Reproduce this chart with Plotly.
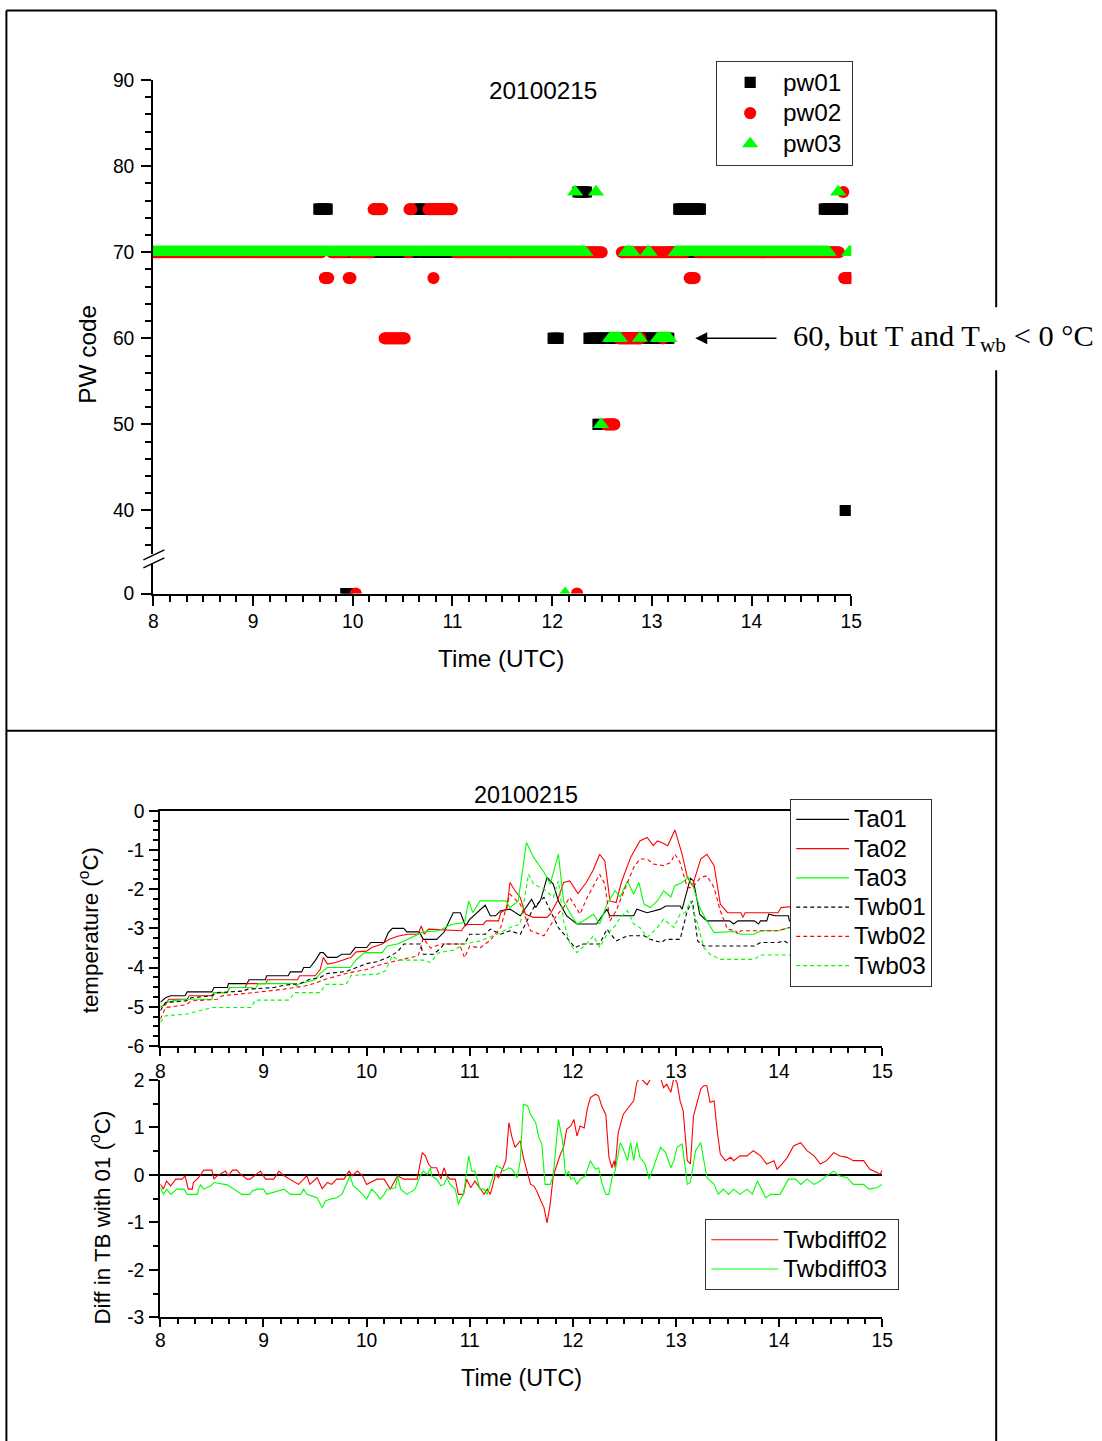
import numpy as np
import plotly.graph_objects as go

W, H = 1102, 1441
# placement of the figure inside the captured page: scale and origin offset (page px)
SX, SY, OX, OY = 0.9857, 0.9845, 4.6, 10.0
K = 1 / 0.985  # size factor for fonts, markers and lengths


def px(x):
    """page pixel column -> paper x"""
    return ((x - OX) / SX) / W


def py(y):
    """page pixel row -> paper y"""
    return 1 - ((y - OY) / SY) / H


def sz(v):
    return round(v * K, 2)


# ---------------- present-weather codes (1-minute reports) ----------------
# runs of constant code: (code, first report, last report) in decimal hours UTC
PW01_RUNS = [
    (70, 8.00, 9.60), (70, 9.82, 9.90), (70, 10.00, 10.62), (70, 10.72, 11.98),
    (70, 12.10, 12.20), (70, 13.20, 14.70),
    (75, 9.66, 9.75), (75, 10.66, 10.69), (75, 13.27, 13.48), (75, 14.73, 14.92),
    (77, 12.26, 12.35),
    (60, 12.01, 12.06), (60, 12.37, 13.17),
    (50, 12.46, 12.47),
    (40, 14.94, 14.94),
    (0, 9.93, 9.95),
]
PW02_RUNS = [
    (70, 8.00, 9.68), (70, 9.79, 9.93), (70, 10.00, 10.18), (70, 10.55, 10.56),
    (70, 11.03, 12.49), (70, 12.70, 13.34), (70, 13.46, 14.88),
    (75, 10.21, 10.30), (75, 10.57, 10.59), (75, 10.76, 11.00),
    (67, 9.72, 9.75), (67, 9.96, 9.97), (67, 10.81, 10.81), (67, 13.38, 13.43), (67, 14.93, 15.00),
    (60, 10.32, 10.52), (60, 12.67, 12.89), (60, 13.11, 13.11),
    (50, 12.54, 12.62),
    (77, 14.92, 14.92),
    (0, 10.03, 10.03), (0, 12.25, 12.25),
]
PW03_RUNS = [
    (70, 8.00, 12.33), (70, 12.74, 12.80), (70, 12.96, 12.97), (70, 13.24, 14.78), (70, 14.98, 15.00),
    (77, 12.23, 12.23), (77, 12.44, 12.44), (77, 14.87, 14.87),
    (60, 12.58, 12.68), (60, 12.88, 12.88), (60, 13.06, 13.17),
    (50, 12.49, 12.49),
    (0, 12.13, 12.13),
]

# ---------------- air and wet-bulb temperature (hour, degC) ----------------
TA01 = [(8.00, -4.89), (8.05, -4.77), (8.10, -4.72), (8.24, -4.72), (8.26, -4.62), (8.50, -4.62),
        (8.52, -4.51), (8.65, -4.51), (8.66, -4.41), (8.84, -4.41), (8.86, -4.31), (9.02, -4.31),
        (9.03, -4.21), (9.24, -4.21), (9.26, -4.11), (9.37, -4.11), (9.39, -4.00), (9.45, -4.00),
        (9.50, -3.83), (9.55, -3.62), (9.58, -3.62), (9.62, -3.74), (9.71, -3.74), (9.76, -3.66),
        (9.84, -3.66), (9.89, -3.49), (10.00, -3.49), (10.04, -3.36), (10.17, -3.36), (10.21, -3.11),
        (10.25, -3.00), (10.36, -3.00), (10.39, -3.09), (10.51, -3.09), (10.55, -3.28), (10.68, -3.28),
        (10.75, -3.10), (10.84, -2.60), (10.91, -2.60), (10.96, -2.94), (11.00, -2.77), (11.09, -2.55),
        (11.15, -2.41), (11.20, -2.68), (11.25, -2.68), (11.30, -2.55), (11.39, -2.51), (11.49, -2.68),
        (11.60, -2.26), (11.64, -2.47), (11.69, -2.26), (11.75, -1.70), (11.81, -1.87), (11.86, -2.30),
        (11.94, -2.68), (12.04, -2.89), (12.23, -2.89), (12.33, -2.51), (12.36, -2.68), (12.59, -2.68),
        (12.62, -2.51), (12.72, -2.60), (12.85, -2.51), (12.90, -2.43), (13.04, -2.43), (13.06, -2.51),
        (13.14, -1.72), (13.17, -1.79), (13.23, -2.64), (13.30, -2.81), (13.52, -2.81), (13.56, -2.89),
        (13.60, -2.81), (13.76, -2.81), (13.80, -2.89), (13.82, -2.81), (13.88, -2.81), (13.90, -2.64),
        (13.96, -2.68), (14.09, -2.68), (14.10, -2.81), (14.40, -2.80), (14.70, -2.75), (15.00, -2.80)]

TA02 = [(8.00, -5.00), (8.05, -4.95), (8.08, -4.81), (8.26, -4.81), (8.28, -4.72), (8.50, -4.72),
        (8.52, -4.64), (8.65, -4.64), (8.67, -4.51), (8.82, -4.51), (8.84, -4.41), (9.02, -4.41),
        (9.04, -4.31), (9.33, -4.31), (9.35, -4.21), (9.50, -4.21), (9.55, -4.05), (9.58, -3.74),
        (9.62, -3.91), (9.70, -3.87), (9.85, -3.74), (9.90, -3.60), (10.00, -3.58), (10.05, -3.49),
        (10.15, -3.40), (10.22, -3.28), (10.30, -3.20), (10.40, -3.15), (10.50, -3.15), (10.53, -2.94),
        (10.56, -3.15), (10.60, -3.02), (10.92, -3.06), (10.96, -2.90), (11.13, -2.90), (11.16, -2.81),
        (11.28, -2.81), (11.30, -2.60), (11.36, -2.50), (11.39, -1.83), (11.44, -2.04), (11.49, -2.21),
        (11.54, -2.64), (11.62, -2.72), (11.75, -2.72), (11.78, -2.64), (11.85, -2.30), (11.91, -1.83),
        (11.97, -1.79), (12.05, -2.11), (12.13, -1.83), (12.20, -1.50), (12.26, -1.11), (12.31, -1.28),
        (12.36, -2.30), (12.42, -2.34), (12.47, -1.83), (12.56, -1.19), (12.65, -0.77), (12.72, -0.68),
        (12.78, -0.89), (12.82, -0.77), (12.86, -0.81), (12.92, -0.89), (12.99, -0.49), (13.06, -1.11),
        (13.11, -1.70), (13.16, -1.91), (13.24, -1.23), (13.30, -1.11), (13.37, -1.40), (13.43, -2.38),
        (13.50, -2.60), (13.63, -2.60), (13.65, -2.72), (13.67, -2.60), (13.99, -2.60), (14.02, -2.47),
        (14.10, -2.45), (14.40, -2.50), (14.70, -2.55), (15.00, -2.50)]

TA03 = [(8.00, -5.02), (8.05, -4.90), (8.12, -4.85), (8.25, -4.81), (8.50, -4.81), (8.52, -4.64),
        (8.65, -4.64), (8.67, -4.51), (8.88, -4.51), (8.92, -4.55), (8.95, -4.41), (9.30, -4.41),
        (9.32, -4.47), (9.35, -4.41), (9.50, -4.31), (9.55, -4.15), (9.62, -4.00), (9.84, -4.00),
        (9.90, -3.80), (9.98, -3.62), (10.15, -3.62), (10.20, -3.45), (10.30, -3.40), (10.40, -3.28),
        (10.55, -3.09), (10.70, -3.06), (10.82, -2.90), (10.95, -2.85), (10.99, -2.30), (11.03, -2.60),
        (11.10, -2.30), (11.35, -2.30), (11.39, -2.47), (11.47, -2.30), (11.55, -0.81), (11.62, -1.19),
        (11.72, -1.57), (11.78, -1.87), (11.86, -1.11), (11.91, -2.30), (11.96, -2.55), (12.04, -2.89),
        (12.10, -2.81), (12.20, -2.64), (12.26, -2.89), (12.33, -2.38), (12.41, -2.04), (12.46, -2.20),
        (12.53, -1.79), (12.59, -2.13), (12.64, -1.83), (12.69, -2.38), (12.75, -2.47), (12.82, -2.30),
        (12.88, -2.04), (12.95, -2.20), (12.99, -1.91), (13.06, -1.83), (13.12, -1.70), (13.17, -1.96),
        (13.23, -2.47), (13.30, -2.81), (13.37, -3.11), (13.56, -3.08), (13.63, -3.15), (13.76, -3.15),
        (13.82, -3.06), (13.99, -3.06), (14.10, -2.98), (14.40, -3.00), (15.00, -3.00)]

TWB01 = [(8.00, -5.10), (8.05, -4.89), (8.25, -4.85), (8.30, -4.77), (8.50, -4.72), (8.55, -4.64),
         (8.80, -4.60), (8.85, -4.55), (9.10, -4.51), (9.20, -4.45), (9.35, -4.41), (9.45, -4.30),
         (9.55, -4.25), (9.62, -4.15), (9.80, -4.10), (9.90, -4.00), (10.00, -3.90), (10.10, -3.85),
         (10.20, -3.75), (10.30, -3.60), (10.36, -3.40), (10.52, -3.40), (10.55, -3.66), (10.65, -3.66),
         (10.72, -3.50), (10.75, -3.40), (10.95, -3.40), (11.00, -3.15), (11.15, -3.15), (11.20, -3.02),
         (11.30, -3.15), (11.39, -3.06), (11.49, -3.15), (11.54, -2.89), (11.62, -2.47), (11.72, -2.21),
         (11.78, -2.55), (11.86, -2.98), (11.94, -3.23), (12.02, -3.49), (12.10, -3.40), (12.26, -3.40),
         (12.33, -3.02), (12.42, -3.32), (12.53, -3.19), (12.69, -3.19), (12.75, -3.28), (12.86, -3.36),
         (12.90, -3.28), (13.04, -3.28), (13.11, -2.55), (13.16, -2.30), (13.21, -3.32), (13.27, -3.45),
         (13.76, -3.45), (13.82, -3.36), (13.99, -3.36), (14.05, -3.32), (14.10, -3.40), (14.50, -3.40),
         (15.00, -3.40)]

TWB02 = [(8.00, -5.32), (8.05, -5.02), (8.25, -4.95), (8.30, -4.85), (8.55, -4.81), (8.60, -4.72),
         (8.90, -4.64), (9.20, -4.55), (9.40, -4.47), (9.50, -4.40), (9.60, -4.30), (9.80, -4.15),
         (10.00, -4.05), (10.10, -3.95), (10.25, -3.85), (10.40, -3.75), (10.50, -3.70), (10.55, -3.25),
         (10.62, -3.50), (10.72, -3.40), (10.90, -3.40), (10.95, -3.75), (11.00, -3.45), (11.10, -3.50),
         (11.20, -3.30), (11.30, -2.98), (11.39, -2.13), (11.49, -2.38), (11.59, -3.06), (11.72, -3.19),
         (11.85, -2.64), (11.91, -2.47), (11.97, -2.21), (12.07, -2.64), (12.13, -2.26), (12.26, -1.62),
         (12.31, -1.87), (12.36, -2.81), (12.42, -2.55), (12.51, -1.96), (12.59, -1.45), (12.65, -1.23),
         (12.72, -1.23), (12.78, -1.36), (12.88, -1.40), (12.95, -1.32), (12.99, -1.11), (13.04, -1.32),
         (13.11, -1.96), (13.16, -1.96), (13.24, -1.70), (13.30, -1.66), (13.37, -1.96), (13.43, -2.55),
         (13.50, -3.02), (13.58, -3.06), (13.60, -3.15), (13.63, -3.06), (13.99, -3.06), (14.10, -2.98),
         (14.50, -3.00), (15.00, -3.00)]

TWB03 = [(8.00, -5.40), (8.05, -5.23), (8.25, -5.19), (8.50, -5.02), (8.88, -5.02), (8.92, -4.83),
         (9.25, -4.83), (9.30, -4.64), (9.55, -4.64), (9.60, -4.43), (9.80, -4.43), (9.85, -4.20),
         (10.10, -4.17), (10.18, -4.09), (10.25, -3.70), (10.30, -3.81), (10.55, -3.81), (10.62, -3.87),
         (10.70, -3.62), (10.85, -3.55), (10.95, -3.40), (11.10, -3.32), (11.30, -3.11), (11.39, -2.98),
         (11.49, -2.89), (11.52, -2.40), (11.57, -1.62), (11.62, -1.87), (11.72, -2.00), (11.81, -2.21),
         (11.86, -1.79), (11.91, -2.81), (11.97, -3.40), (12.04, -3.62), (12.13, -3.40), (12.20, -3.19),
         (12.26, -3.49), (12.33, -3.15), (12.41, -2.94), (12.46, -2.72), (12.53, -2.55), (12.59, -2.89),
         (12.65, -2.98), (12.72, -3.23), (12.82, -2.98), (12.88, -2.77), (12.98, -2.98), (13.04, -2.64),
         (13.09, -2.60), (13.14, -2.30), (13.21, -2.89), (13.27, -3.49), (13.33, -3.66), (13.43, -3.79),
         (13.76, -3.79), (13.82, -3.68), (14.10, -3.68), (14.50, -3.60), (15.00, -3.50)]

# ---------------- wet-bulb difference relative to station 01 ----------------
TWBDIFF02 = [(8.00, -0.20), (8.03, -0.30), (8.06, -0.13), (8.10, -0.23), (8.15, -0.09), (8.21, -0.09),
             (8.24, -0.02), (8.27, -0.30), (8.31, -0.30), (8.32, -0.16), (8.37, -0.06), (8.42, 0.10),
             (8.50, 0.10), (8.52, -0.09), (8.55, -0.02), (8.63, 0.08), (8.66, -0.02), (8.70, 0.10),
             (8.74, 0.10), (8.78, 0.01), (8.84, -0.09), (8.87, -0.09), (8.97, 0.08), (9.02, -0.09),
             (9.10, -0.09), (9.15, 0.08), (9.20, -0.02), (9.26, -0.09), (9.34, -0.20), (9.39, -0.09),
             (9.42, -0.02), (9.45, -0.20), (9.52, -0.06), (9.57, -0.29), (9.62, -0.16), (9.66, -0.20),
             (9.71, -0.09), (9.78, -0.09), (9.83, 0.08), (9.86, -0.02), (9.91, 0.08), (9.96, -0.02),
             (10.00, -0.20), (10.10, -0.09), (10.17, -0.09), (10.23, -0.30), (10.30, -0.02), (10.36, -0.09),
             (10.49, -0.09), (10.54, 0.47), (10.57, 0.40), (10.60, 0.23), (10.63, 0.15), (10.68, 0.15),
             (10.72, -0.09), (10.75, 0.15), (10.78, -0.02), (10.81, -0.09), (10.86, -0.09), (10.89, -0.41),
             (10.94, -0.41), (10.97, -0.09), (11.01, -0.27), (11.05, -0.13), (11.10, -0.30), (11.14, -0.41),
             (11.17, -0.30), (11.20, -0.41), (11.25, 0.01), (11.28, -0.06), (11.31, 0.08), (11.35, 0.30),
             (11.38, 1.10), (11.41, 0.79), (11.44, 0.58), (11.49, 0.72), (11.52, 0.37), (11.56, 0.01),
             (11.59, -0.20), (11.62, -0.23), (11.65, -0.34), (11.69, -0.55), (11.72, -0.69), (11.75, -1.01),
             (11.78, -0.62), (11.81, -0.02), (11.85, 0.26), (11.88, 0.44), (11.91, 0.58), (11.94, 0.96),
             (11.98, 1.03), (12.01, 1.17), (12.04, 0.82), (12.07, 1.03), (12.11, 0.99), (12.14, 1.39),
             (12.17, 1.63), (12.22, 1.70), (12.25, 1.66), (12.28, 1.45), (12.32, 1.27), (12.35, 0.37),
             (12.38, 0.15), (12.40, 0.30), (12.41, 0.15), (12.44, 0.89), (12.49, 1.28), (12.56, 1.49),
             (12.59, 1.56), (12.62, 1.95), (12.65, 2.05), (12.72, 1.90), (12.76, 2.05), (12.85, 2.05),
             (12.88, 1.84), (12.91, 1.91), (12.95, 1.74), (12.98, 2.05), (13.01, 1.95), (13.04, 1.56),
             (13.07, 1.35), (13.11, 0.30), (13.14, 0.23), (13.17, 1.24), (13.20, 1.49), (13.24, 1.81),
             (13.27, 1.88), (13.30, 1.88), (13.33, 1.53), (13.37, 1.56), (13.40, 0.93), (13.43, 0.44),
             (13.48, 0.30), (13.53, 0.37), (13.56, 0.30), (13.62, 0.40), (13.69, 0.40), (13.75, 0.51),
             (13.82, 0.40), (13.88, 0.23), (13.95, 0.30), (13.98, 0.12), (14.03, 0.23), (14.08, 0.37),
             (14.14, 0.61), (14.21, 0.68), (14.27, 0.51), (14.34, 0.40), (14.40, 0.23), (14.46, 0.30),
             (14.53, 0.47), (14.59, 0.40), (14.66, 0.37), (14.72, 0.30), (14.82, 0.30), (14.88, 0.12),
             (14.95, 0.05), (14.98, 0.01), (15.00, 0.10)]

TWBDIFF03 = [(8.00, -0.27), (8.03, -0.41), (8.06, -0.30), (8.10, -0.41), (8.16, -0.30), (8.23, -0.30),
             (8.26, -0.41), (8.36, -0.41), (8.37, -0.30), (8.39, -0.21), (8.42, -0.30), (8.49, -0.23),
             (8.52, -0.16), (8.65, -0.21), (8.79, -0.41), (8.87, -0.41), (8.89, -0.34), (8.94, -0.30),
             (9.00, -0.30), (9.03, -0.41), (9.20, -0.30), (9.26, -0.41), (9.36, -0.41), (9.39, -0.30),
             (9.42, -0.41), (9.52, -0.48), (9.57, -0.69), (9.60, -0.55), (9.65, -0.51), (9.71, -0.48),
             (9.76, -0.41), (9.84, -0.02), (9.87, -0.23), (9.91, -0.30), (9.96, -0.41), (10.00, -0.51),
             (10.05, -0.30), (10.10, -0.41), (10.13, -0.51), (10.17, -0.41), (10.20, -0.30), (10.28, -0.27),
             (10.30, -0.02), (10.33, -0.30), (10.39, -0.41), (10.47, -0.30), (10.52, -0.02), (10.55, 0.08),
             (10.59, 0.01), (10.62, 0.15), (10.63, -0.02), (10.68, -0.09), (10.72, -0.23), (10.75, -0.20),
             (10.78, -0.06), (10.81, -0.20), (10.86, -0.30), (10.89, -0.62), (10.91, -0.51), (10.94, -0.41),
             (10.99, 0.40), (11.02, 0.08), (11.05, 0.08), (11.10, -0.30), (11.14, -0.30), (11.17, -0.41),
             (11.20, -0.20), (11.23, -0.02), (11.26, 0.19), (11.30, 0.15), (11.33, 0.08), (11.38, 0.15),
             (11.41, 0.12), (11.46, -0.06), (11.49, 0.30), (11.52, 1.49), (11.56, 1.46), (11.59, 1.28),
             (11.64, 1.10), (11.67, 0.79), (11.70, 0.65), (11.73, -0.20), (11.78, -0.20), (11.81, -0.02),
             (11.86, 1.17), (11.90, 0.72), (11.93, -0.02), (11.96, 0.08), (11.98, -0.09), (12.01, -0.06),
             (12.04, -0.20), (12.07, -0.09), (12.12, -0.02), (12.17, 0.30), (12.22, 0.12), (12.25, 0.15),
             (12.28, -0.16), (12.32, -0.41), (12.35, -0.41), (12.38, -0.06), (12.41, 0.08), (12.46, 0.68),
             (12.49, 0.54), (12.53, 0.30), (12.56, 0.68), (12.59, 0.30), (12.62, 0.68), (12.65, 0.37),
             (12.70, 0.23), (12.74, -0.09), (12.78, 0.15), (12.85, 0.58), (12.90, 0.47), (12.95, 0.15),
             (12.98, 0.30), (13.01, 0.58), (13.06, 0.65), (13.11, -0.20), (13.14, -0.16), (13.19, 0.51),
             (13.24, 0.68), (13.27, 0.30), (13.30, -0.06), (13.37, -0.20), (13.41, -0.41), (13.46, -0.30),
             (13.51, -0.41), (13.56, -0.30), (13.62, -0.41), (13.69, -0.30), (13.74, -0.41), (13.79, -0.13),
             (13.83, -0.30), (13.87, -0.48), (13.92, -0.41), (14.01, -0.41), (14.09, -0.09), (14.16, -0.09),
             (14.21, -0.20), (14.27, -0.09), (14.34, -0.20), (14.40, -0.13), (14.46, -0.02), (14.53, 0.08),
             (14.58, -0.02), (14.66, -0.06), (14.72, -0.20), (14.82, -0.20), (14.87, -0.30), (14.95, -0.27),
             (15.00, -0.20)]

HOUR_TICKS = [8, 9, 10, 11, 12, 13, 14, 15]
TEMP_TICKS = [-6, -5, -4, -3, -2, -1, 0]
DIFF_TICKS = [-3, -2, -1, 0, 1, 2]

FONT = "Liberation Sans, Arial, sans-serif"
BLACK, RED, GREEN = "#000000", "#FF0000", "#00FF00"


def expand(runs):
    """Turn (code, first, last) runs into one point per 1-minute report."""
    t, v = [], []
    for code, a, b in runs:
        n = int(round((b - a) * 60)) + 1
        for k in range(n):
            t.append(round(a + k / 60.0, 4))
            v.append(code)
    return np.array(t), np.array(v)


def unzip(pairs):
    a = np.array(pairs, dtype=float)
    return a[:, 0], a[:, 1]


def entry(name, pad=0):
    return f'<span style="font-size:{sz(24)}px">{name}</span>' + "\u00a0" * pad


fig = go.Figure()

# ---- present weather panel: code >= 20 on the upper axis, code 0 below the break ----
pw_series = [
    ("pw01", PW01_RUNS, BLACK, "square", 11),
    ("pw02", PW02_RUNS, RED, "circle", 12),
    ("pw03", PW03_RUNS, GREEN, "triangle-up", 14),
]
for name, runs, color, symbol, size in pw_series:
    t, v = expand(runs)
    hi = v >= 20
    mk = dict(color=color, symbol=symbol, size=sz(size), line=dict(width=0))
    fig.add_trace(go.Scatter(x=t[hi], y=v[hi], mode="markers", marker=mk, xaxis="x", yaxis="y",
                             name=entry(name, 1), legend="legend", legendgroup=name))
    fig.add_trace(go.Scatter(x=t[~hi], y=v[~hi], mode="markers", marker=mk, xaxis="x", yaxis="y2",
                             showlegend=False, legendgroup=name))

# ---- temperature panel ----
temp_series = [
    ("Ta01", TA01, BLACK, "solid"), ("Ta02", TA02, RED, "solid"), ("Ta03", TA03, GREEN, "solid"),
    ("Twb01", TWB01, BLACK, "4px,3px"), ("Twb02", TWB02, RED, "4px,3px"), ("Twb03", TWB03, GREEN, "4px,3px"),
]
for name, pairs, color, dash in temp_series:
    t, v = unzip(pairs)
    fig.add_trace(go.Scatter(x=t, y=v, mode="lines", line=dict(color=color, width=1.1, dash=dash),
                             xaxis="x2", yaxis="y3", legend="legend2", name=entry(name)))

# ---- wet-bulb difference panel ----
for name, pairs, color in [("Twbdiff02", TWBDIFF02, RED), ("Twbdiff03", TWBDIFF03, GREEN)]:
    t, v = unzip(pairs)
    fig.add_trace(go.Scatter(x=t, y=v, mode="lines", line=dict(color=color, width=1.1),
                             xaxis="x3", yaxis="y4", legend="legend3", name=entry(name, 1)))

axis_common = dict(showline=True, linecolor=BLACK, linewidth=2, ticks="outside", tickcolor=BLACK,
                   tickwidth=1.5, showgrid=False, tickfont=dict(family=FONT, size=sz(19), color=BLACK))


def minor(dtick, tick0, length):
    return dict(ticks="outside", tickmode="linear", dtick=dtick, tick0=tick0, ticklen=sz(length),
                tickcolor=BLACK, tickwidth=1.5, showgrid=False)


hour_ticks = dict(tickmode="array", tickvals=HOUR_TICKS, ticktext=[str(h) for h in HOUR_TICKS])

fig.update_layout(
    width=W, height=H, autosize=False,
    margin=dict(l=0, r=0, t=0, b=0),
    paper_bgcolor="white", plot_bgcolor="rgba(0,0,0,0)",
    font=dict(family=FONT, color=BLACK),
    # present weather panel
    xaxis=dict(domain=[px(153), px(851)], range=[8, 15], anchor="y2", ticklen=sz(10), zeroline=False,
               minor=minor(1 / 6, 8, 6), ticklabelstandoff=-1, **hour_ticks, **axis_common),
    yaxis=dict(domain=[py(553), py(80)], range=[35, 90], anchor="x", tickmode="linear", tick0=0, dtick=10,
               ticklen=sz(10), zeroline=False, minor=minor(2, 0, 6), ticklabelstandoff=3, **axis_common),
    yaxis2=dict(domain=[py(593), py(563)], range=[0, 3.49], anchor="x", tickmode="array", tickvals=[0],
                ticktext=["0"], ticklen=sz(10), zeroline=False, ticklabelstandoff=3, **axis_common),
    # temperature panel
    xaxis2=dict(domain=[px(160), px(882)], range=[8, 15], anchor="y3", ticklen=sz(8), mirror=True,
                zeroline=False, minor=minor(1 / 6, 8, 5), ticklabelstandoff=-1, **hour_ticks, **axis_common),
    yaxis3=dict(domain=[py(1045), py(810)], range=[-6, 0], anchor="x2", tickmode="array", zeroline=False,
                tickvals=TEMP_TICKS, ticktext=[str(v) for v in TEMP_TICKS], ticklen=sz(9),
                minor=minor(0.25, 0, 5), ticklabelstandoff=1, **axis_common),
    # difference panel
    xaxis3=dict(domain=[px(160), px(882)], range=[8, 15], anchor="y4", ticklen=sz(8), zeroline=False,
                minor=minor(1 / 6, 8, 5), ticklabelstandoff=-3, **hour_ticks, **axis_common),
    yaxis4=dict(domain=[py(1316), py(1079)], range=[-3, 2], anchor="x3", tickmode="array",
                tickvals=DIFF_TICKS, ticktext=[str(v) for v in DIFF_TICKS], ticklen=sz(9),
                minor=minor(0.5, 0, 5), ticklabelstandoff=1,
                zeroline=True, zerolinecolor=BLACK, zerolinewidth=2, **axis_common),
    legend=dict(x=px(716), y=py(61), xanchor="left", yanchor="top", bgcolor="white",
                bordercolor="#333333", borderwidth=1, font=dict(family=FONT, size=21.3),
                itemwidth=sz(55), tracegroupgap=0),
    legend2=dict(x=px(790), y=py(798), xanchor="left", yanchor="top", bgcolor="white",
                 bordercolor="#333333", borderwidth=1, font=dict(family=FONT, size=20.2), itemwidth=sz(52)),
    legend3=dict(x=px(705), y=py(1218), xanchor="left", yanchor="top", bgcolor="white",
                 bordercolor="#333333", borderwidth=1, font=dict(family=FONT, size=20.2), itemwidth=sz(66)),
    showlegend=True,
)

# outer page frame (open at the bottom, broken on the right where the note sits) and panel divider
frame = [
    (6, 10.5, 996, 10.5),      # top
    (6, 10.5, 6, 1441),        # left
    (996, 10.5, 996, 307),     # right, above the note
    (996, 370, 996, 1441),     # right, below the note
    (6, 730, 996, 730),        # divider between the two panels
]
for x0, y0, x1, y1 in frame:
    fig.add_shape(type="line", xref="paper", yref="paper", x0=px(x0), x1=px(x1), y0=py(y0), y1=py(y1),
                  line=dict(color=BLACK, width=2))
# axis-break marks on the PW code axis
for y_lo, y_hi in [(559.3, 549.3), (567.3, 557.3)]:
    fig.add_shape(type="line", xref="paper", yref="paper", x0=px(143), x1=px(164), y0=py(y_lo), y1=py(y_hi),
                  line=dict(color=BLACK, width=1.5))


def label(text, x, y, size, angle=0):
    fig.add_annotation(text=text, x=px(x), y=py(y), xref="paper", yref="paper", showarrow=False,
                       textangle=angle, xanchor="center", yanchor="middle",
                       font=dict(family=FONT, size=sz(size), color=BLACK))


label("20100215", 543, 90, 24)
label("Time (UTC)", 501, 658, 24)
label("PW code", 87, 354, 24, -90)
label("20100215", 526, 794, 23)
label("temperature (<sup>o</sup>C)", 88, 929, 22, -90)
label("Diff in TB with 01 (<sup>o</sup>C)", 100, 1216, 22, -90)
label("Time (UTC)", 521, 1377, 23)

# note with an arrow pointing at the code-60 reports
fig.add_annotation(text="60, but T and T<sub>wb</sub> < 0 °C", x=px(695), y=py(338), xref="paper", yref="paper",
                   showarrow=True, ax=sz(80), ay=0, xanchor="left", yanchor="middle", borderpad=16,
                   arrowhead=2, arrowsize=1.6, arrowwidth=1.5, arrowcolor=BLACK, standoff=0,
                   font=dict(family="Liberation Serif, serif", size=sz(30), color=BLACK))

fig.write_html("out.html", config={"displayModeBar": False})
